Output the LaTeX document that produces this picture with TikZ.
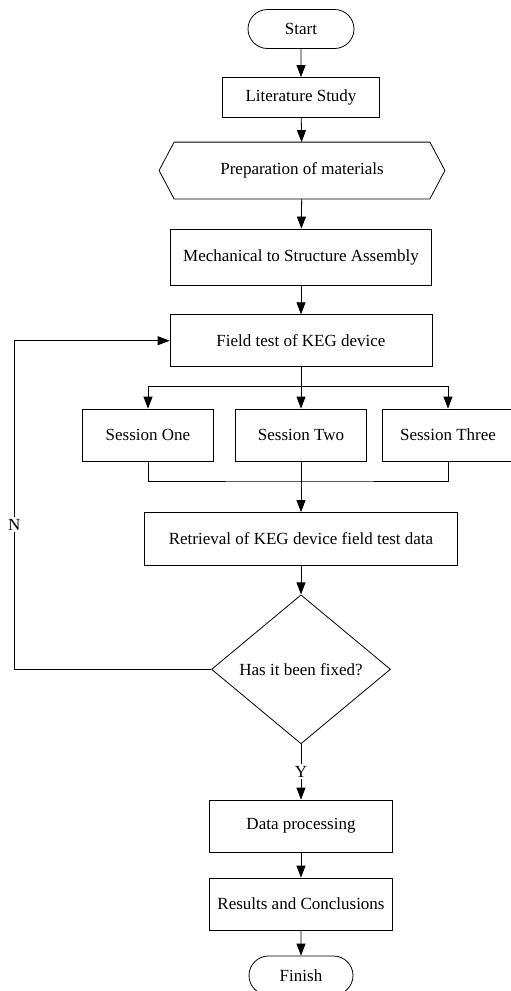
\documentclass[tikz,border=0pt]{standalone}
\usepackage{fontspec}
\setmainfont{Liberation Serif}
\usepackage{tikz}
\usetikzlibrary{shapes.geometric,shapes.misc,arrows.meta,positioning,calc}
\tikzset{
  termbox/.style={rounded rectangle, draw, minimum width=106pt, minimum height=39pt,
                  inner sep=0pt},
  procbox/.style={rectangle, draw, minimum height=52pt, inner sep=0pt},
  decbox/.style={diamond, draw, aspect=1.2, minimum width=179pt, minimum height=149pt,
                 inner sep=0pt},
  arr/.style={-{Triangle[length=12pt,width=9pt]}},
  lbl/.style={fill=white, inner sep=2pt},
}

\begin{document}
\begin{tikzpicture}[x=1pt, y=-1pt, line width=0.8pt,
                    font=\fontsize{17}{20}\selectfont]
  \useasboundingbox (0,0) rectangle (511,991);
  % Main column
  \node[termbox] (start) at (301,29) {Start};
  \node[procbox, minimum width=157pt, minimum height=40pt] (lit) at (301,97.5) {Literature Study};
  \node[minimum width=285pt, minimum height=56pt, inner sep=0pt] (prep) at (302,170.5) {Preparation of materials};
  \draw (prep.west) -- ([xshift=15pt]prep.north west) -- ([xshift=-15pt]prep.north east)
    -- (prep.east) -- ([xshift=-15pt]prep.south east) -- ([xshift=15pt]prep.south west) -- cycle;
  \node[procbox, minimum width=261pt, minimum height=56pt] (mech) at (301,257) {Mechanical to Structure Assembly};
  \node[procbox, minimum width=262pt] (field) at (301,340.7) {Field test of KEG device};
  % Sessions
  \node[procbox, minimum width=131pt] (s1) at (148,435) {Session One};
  \node[procbox, minimum width=131pt] (s2) at (301,435) {Session Two};
  \node[procbox, minimum width=131pt] (s3) at (448,435) {Session Three};
  \coordinate (br) at (301,386.7);
  \coordinate (mg) at (301,481);
  \node[procbox, minimum width=313pt, minimum height=53pt] (retr) at (301,539) {Retrieval of KEG device field test data};
  \node[decbox] (dec) at (301,669.3) {Has it been fixed?};
  \node[procbox, minimum width=183pt] (data) at (301,826) {Data processing};
  \node[procbox, minimum width=183pt] (res) at (301,904) {Results and Conclusions};
  \node[termbox, minimum width=104pt] (fin) at (301,975.5) {Finish};
  % Connectors
  \draw[arr] (start) -- (lit);
  \draw[arr] (lit) -- (prep);
  \draw[arr] (prep) -- (mech);
  \draw[arr] (mech) -- (field);
  \draw[arr] (field.south) -- (s2.north);
  \draw[arr] (br) -| (s1.north);
  \draw[arr] (br) -| (s3.north);
  \draw (s1.south) |- (mg) -| (s3.south);
  \draw[arr] (s2.south) -- (retr.north);
  \draw[arr] (retr) -- (dec);
  \coordinate (nl) at (14.3,669.3);
  \draw[arr] (dec.west) -- (nl) |- node[lbl, pos=0.22] {N} (field.west);
  \draw[arr] (dec.south) -- node[lbl, pos=0.5] {Y} (data.north);
  \draw[arr] (data) -- (res);
  \draw[arr] (res) -- (fin);
\end{tikzpicture}
\end{document}
